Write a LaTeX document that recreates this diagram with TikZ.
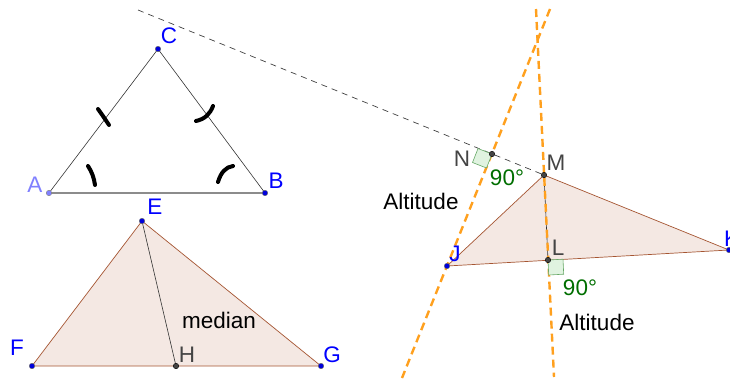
\documentclass[tikz,border=0pt]{standalone}
\usepackage{fontspec}
\setmainfont{Liberation Sans}
\definecolor{ptblue}{RGB}{0,0,220}
\definecolor{lblblue}{RGB}{0,0,255}
\definecolor{lav}{RGB}{128,128,255}
\definecolor{dgray}{RGB}{68,68,68}
\definecolor{ggreen}{RGB}{0,110,0}
\definecolor{polyfill}{RGB}{244,232,227}
\definecolor{polyedge}{RGB}{165,85,50}
\definecolor{orng}{RGB}{255,160,30}
\begin{document}
\begin{tikzpicture}[x=1pt,y=-1pt,
  font=\fontsize{22.5}{26}\selectfont,
  pt/.style={circle,inner sep=0pt,minimum size=5.5pt,fill=ptblue,draw=black!60,line width=0.4pt},
  gpt/.style={pt,fill=dgray,draw=black},
  lbl/.style={inner sep=0pt,text=lblblue},
  glbl/.style={inner sep=0pt,text=dgray},
  ang/.style={inner sep=0pt,text=ggreen},
  txt/.style={inner sep=0pt,text=black},
  poly/.style={fill=polyfill,draw=polyedge,line width=0.7pt},
  thinedge/.style={draw=black!80,line width=0.6pt},
  tick/.style={line width=4pt,line cap=round,black},
  orangedash/.style={draw=orng,line width=2.4pt,dash pattern=on 8pt off 5pt},
  graydash/.style={draw=black!75,line width=0.7pt,dash pattern=on 6pt off 5pt},
  rsq/.style={fill=green!60!black!12,draw=ggreen!60,line width=0.6pt}
]
\useasboundingbox (0,0) rectangle (730,381);

% coordinates
\coordinate (A) at (49,193);
\coordinate (B) at (265,193);
\coordinate (C) at (158,49);
\coordinate (E) at (142,221);
\coordinate (F) at (32,366);
\coordinate (G) at (321,366);
\coordinate (H) at (176,366);
\coordinate (M) at (544,175);
\coordinate (N) at (492,154);
\coordinate (J) at (447,266);
\coordinate (L) at (548,260);
\coordinate (K) at (729,250);
\coordinate (D0) at (138,10);
\coordinate (O1a) at (550,9);
\coordinate (O1b) at (402,378);
\coordinate (O2a) at (536,9);
\coordinate (O2b) at (554,377);

% polygons
\path[poly] (E) -- (F) -- (G) -- cycle;
\path[poly] (M) -- (J) -- (K) -- cycle;

% triangle ABC
\draw[thinedge] (A) -- (C) -- (B);
\draw[black!45,line width=1.4pt] (A) -- (B);

% ticks
\draw[tick] (98,109) .. controls (103,116) .. (109,125);
\draw[tick] (196,121) .. controls (205,119) and (210,114) .. (213,106);
\draw[tick] (88,166) .. controls (92,172) and (94,178) .. (95,185);
\draw[tick] (218,182) .. controls (221,172) and (226,167) .. (233,166);

% median and altitude segments
\draw[thinedge] (E) -- (H);
\draw[thinedge] (M) -- (L);

% dashed lines
\draw[graydash] (D0) -- (M);
\draw[orangedash] (O1a) -- (O1b);
\draw[orangedash] (O2a) -- (O2b);

% right angle squares
\draw[rsq] (492,154) -- (478,148.5) -- (472.5,162.5) -- (486.5,168) -- cycle;
\draw[rsq] (548,260) -- (563,259.2) -- (563.7,274.2) -- (548.7,275) -- cycle;

% points
\node[pt,fill=lav,draw=black!50] (pA) at (A) {};
\node[pt] (pB) at (B) {};
\node[pt] (pC) at (C) {};
\node[pt] (pE) at (E) {};
\node[pt] (pF) at (F) {};
\node[pt] (pG) at (G) {};
\node[gpt] (pH) at (H) {};
\node[gpt] (pM) at (M) {};
\node[gpt] (pN) at (N) {};
\node[pt] (pJ) at (J) {};
\node[gpt] (pL) at (L) {};
\node[pt] (pK) at (K) {};

% labels
\node[lbl] (lC) at (169,36) {C};
\node[lbl,text=lav] (lA) at (35,185) {A};
\node[lbl] (lB) at (276,181) {B};
\node[lbl] (lE) at (155,207) {E};
\node[lbl] (lF) at (17,348) {F};
\node[lbl] (lG) at (332,355) {G};
\node[glbl] (lH) at (187,355) {H};
\node[txt] (med) at (219,320) {median};
\node[glbl] (lM) at (556,163) {M};
\node[glbl] (lN) at (462,159) {N};
\node[ang] (a1) at (507,178) {90°};
\node[txt] (alt1) at (421,201) {Altitude};
\node[lbl] (lJ) at (455,254) {J};
\node[glbl] (lL) at (558,248) {L};
\node[ang] (a2) at (580,288) {90°};
\node[txt] (alt2) at (597,322) {Altitude};
\node[lbl,anchor=west] (lK) at (724,239) {K};
\end{tikzpicture}
\end{document}
